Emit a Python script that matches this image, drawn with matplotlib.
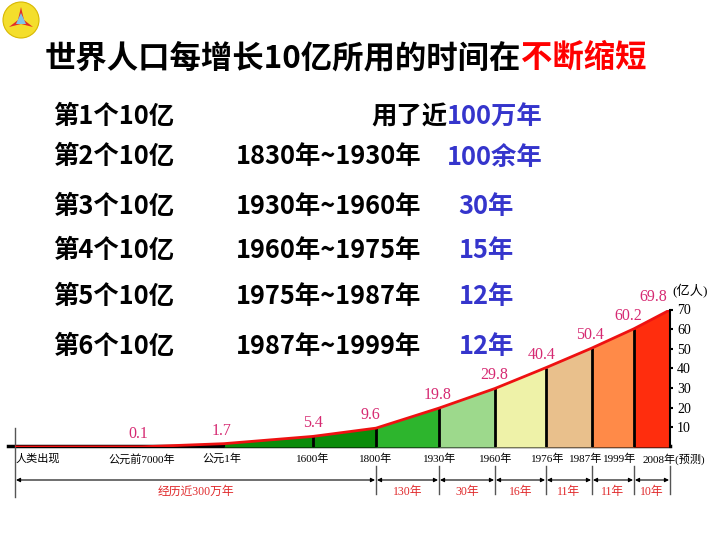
import matplotlib.pyplot as plt
from matplotlib.patches import Circle, Polygon
from matplotlib.transforms import blended_transform_factory

plt.rcParams['font.family'] = ['Noto Sans CJK SC', 'DejaVu Sans']

# 上半部分：每增长10亿所用时间
rows = ['第1个10亿', '第2个10亿', '第3个10亿', '第4个10亿', '第5个10亿', '第6个10亿']
periods = ['', '1830年~1930年', '1930年~1960年', '1960年~1975年', '1975年~1987年', '1987年~1999年']
spans = ['100万年', '100余年', '30年', '15年', '12年', '12年']

# 下半部分：人口增长曲线（亿人）
eras = ['人类出现', '公元前7000年', '公元1年', '1600年', '1800年', '1930年',
        '1960年', '1976年', '1987年', '1999年', '2008年(预测)']
pop = [0, 0.1, 1.7, 5.4, 9.6, 19.8, 29.8, 40.4, 50.4, 60.2, 69.8]
gaps = ['经历近300万年', '130年', '30年', '16年', '11年', '11年', '10年']
yticks = [10, 20, 30, 40, 50, 60, 70]

# 布局（像素）
xpos = [15, 142, 224, 313, 376, 439, 495, 546, 592, 634, 670]
era_lx = [16, 142, 222, 313, 376, 440, 496, 548, 586, 620, 674]
label_dx = [0, -4, -2, 0, -6, -1, -1, -4, -2, -6, -17]
seg_colors = [None, None, '#0a8c0a', '#0a8c0a', '#2db52d', '#9dd98c',
              '#eef2a8', '#e9c08c', '#ff8a48', '#ff2d0d']
row_y = [117, 157, 207, 251, 297, 347]

BLUE = '#3535cc'
PINK = '#d62a72'
SERIF = ['Liberation Serif', 'Noto Sans CJK SC']

fig = plt.figure(figsize=(7.2, 5.4), dpi=100)
bg = fig.add_axes([0, 0, 1, 1])
bg.set_xlim(0, 720)
bg.set_ylim(540, 0)
bg.axis('off')

# 校徽
bg.add_patch(Circle((21, 20), 18, facecolor='#f4de2c', edgecolor='#d8b800', lw=0.8))
bg.add_patch(Polygon([(21, 7), (24, 20), (33, 27), (21, 24), (9, 27), (18, 20)],
                     closed=True, facecolor='#e0302a', edgecolor='none'))
bg.add_patch(Polygon([(21, 13), (26, 24), (16, 24)], closed=True,
                     facecolor='#7fc4e8', edgecolor='none'))

# 标题
renderer = fig.canvas.get_renderer()
t = bg.text(45, 58, '世界人口每增长10亿所用的时间在', fontsize=22.6, fontweight='bold',
            ha='left', va='center', color='black')
x_end = bg.transData.inverted().transform(t.get_window_extent(renderer))[1][0]
bg.text(x_end, 58, '不断缩短', fontsize=22.6, fontweight='bold',
        ha='left', va='center', color='#ff0000')

# 各行文字
for i in range(len(rows)):
    y = row_y[i]
    bg.text(53, y, rows[i], fontsize=18.3, fontweight='bold', ha='left', va='center')
    if periods[i]:
        bg.text(236, y, periods[i], fontsize=18.3, fontweight='bold', ha='left', va='center')
    right = 543 if i < 2 else 514
    s = bg.text(right, y, spans[i], fontsize=18.3, fontweight='bold', ha='right',
                va='center', color=BLUE)
    if i == 0:
        x0 = bg.transData.inverted().transform(s.get_window_extent(renderer))[0][0]
        bg.text(x0, y, '用了近', fontsize=18.3, fontweight='bold', ha='right', va='center')

# 图表
ax = fig.add_axes([15 / 720, (540 - 447) / 540, 655 / 720, 137.5 / 540])
ax.set_xlim(15, 670)
ax.set_ylim(0, 70)
ax.patch.set_alpha(0)

for i, c in enumerate(seg_colors):
    if c:
        ax.fill_between(xpos[i:i + 2], pop[i:i + 2], color=c, lw=0)

ax.vlines(xpos[3:10], 0, pop[3:10], color='black', lw=2)
ax.vlines(xpos[2], 0, 1.2, color='black', lw=1.5)
ax.plot(xpos, pop, color='#ee1111', lw=2, solid_capstyle='round')
ax.annotate('', xy=(xpos[-1] + 2, pop[-1]), xytext=(xpos[-1] - 8, pop[-1] - 2.2),
            arrowprops=dict(arrowstyle='-|>', color='#ee1111', lw=1.5, mutation_scale=12))

for i in range(1, len(pop)):
    ax.annotate(f'{pop[i]}', (xpos[i], pop[i]), xytext=(label_dx[i], 5),
                textcoords='offset pixels', ha='center', va='bottom',
                color=PINK, fontsize=11.5, family=SERIF)

for s in ['top', 'left', 'bottom']:
    ax.spines[s].set_visible(False)
ax.spines['right'].set_linewidth(1.5)
ax.spines['right'].set_bounds(0, 70)
ax.set_xticks([])
ax.yaxis.tick_right()
ax.set_yticks(yticks)
ax.set_yticklabels([str(v) for v in yticks], family=SERIF, fontsize=10)
ax.tick_params(axis='y', length=2, width=1.5, pad=3)
ax.text(1.003, 1.13, '(亿人)', transform=ax.transAxes, ha='left', va='center',
        fontsize=9.5, family=SERIF)

# 横轴与时间标注
bg.plot([8, 670], [446, 446], color='black', lw=2.5, zorder=1)
bg.plot([15, 15], [428, 497], color='#555555', lw=1)
tr = blended_transform_factory(ax.transData, bg.transData)
for i, e in enumerate(eras):
    ax.text(era_lx[i], 459, e, transform=tr, ha='left' if i == 0 else 'center',
            va='center', fontsize=8, family=SERIF, clip_on=False)

bounds = [xpos[0]] + xpos[4:]
for b in bounds[1:]:
    ax.plot([b, b], [466, 494], transform=tr, color='#555555', lw=1, clip_on=False)
for i, g in enumerate(gaps):
    ax.annotate('', xy=(bounds[i + 1] - 1, 480), xytext=(bounds[i] + 1, 480),
                xycoords=tr, textcoords=tr,
                arrowprops=dict(arrowstyle='<|-|>', color='black', lw=0.8,
                                mutation_scale=6, shrinkA=0, shrinkB=0))
    ax.text((bounds[i] + bounds[i + 1]) / 2, 492, g, transform=tr, ha='center',
            va='center', fontsize=8.5, color='#e0282a', family=SERIF, clip_on=False)

fig.savefig('out.png', dpi=100)
